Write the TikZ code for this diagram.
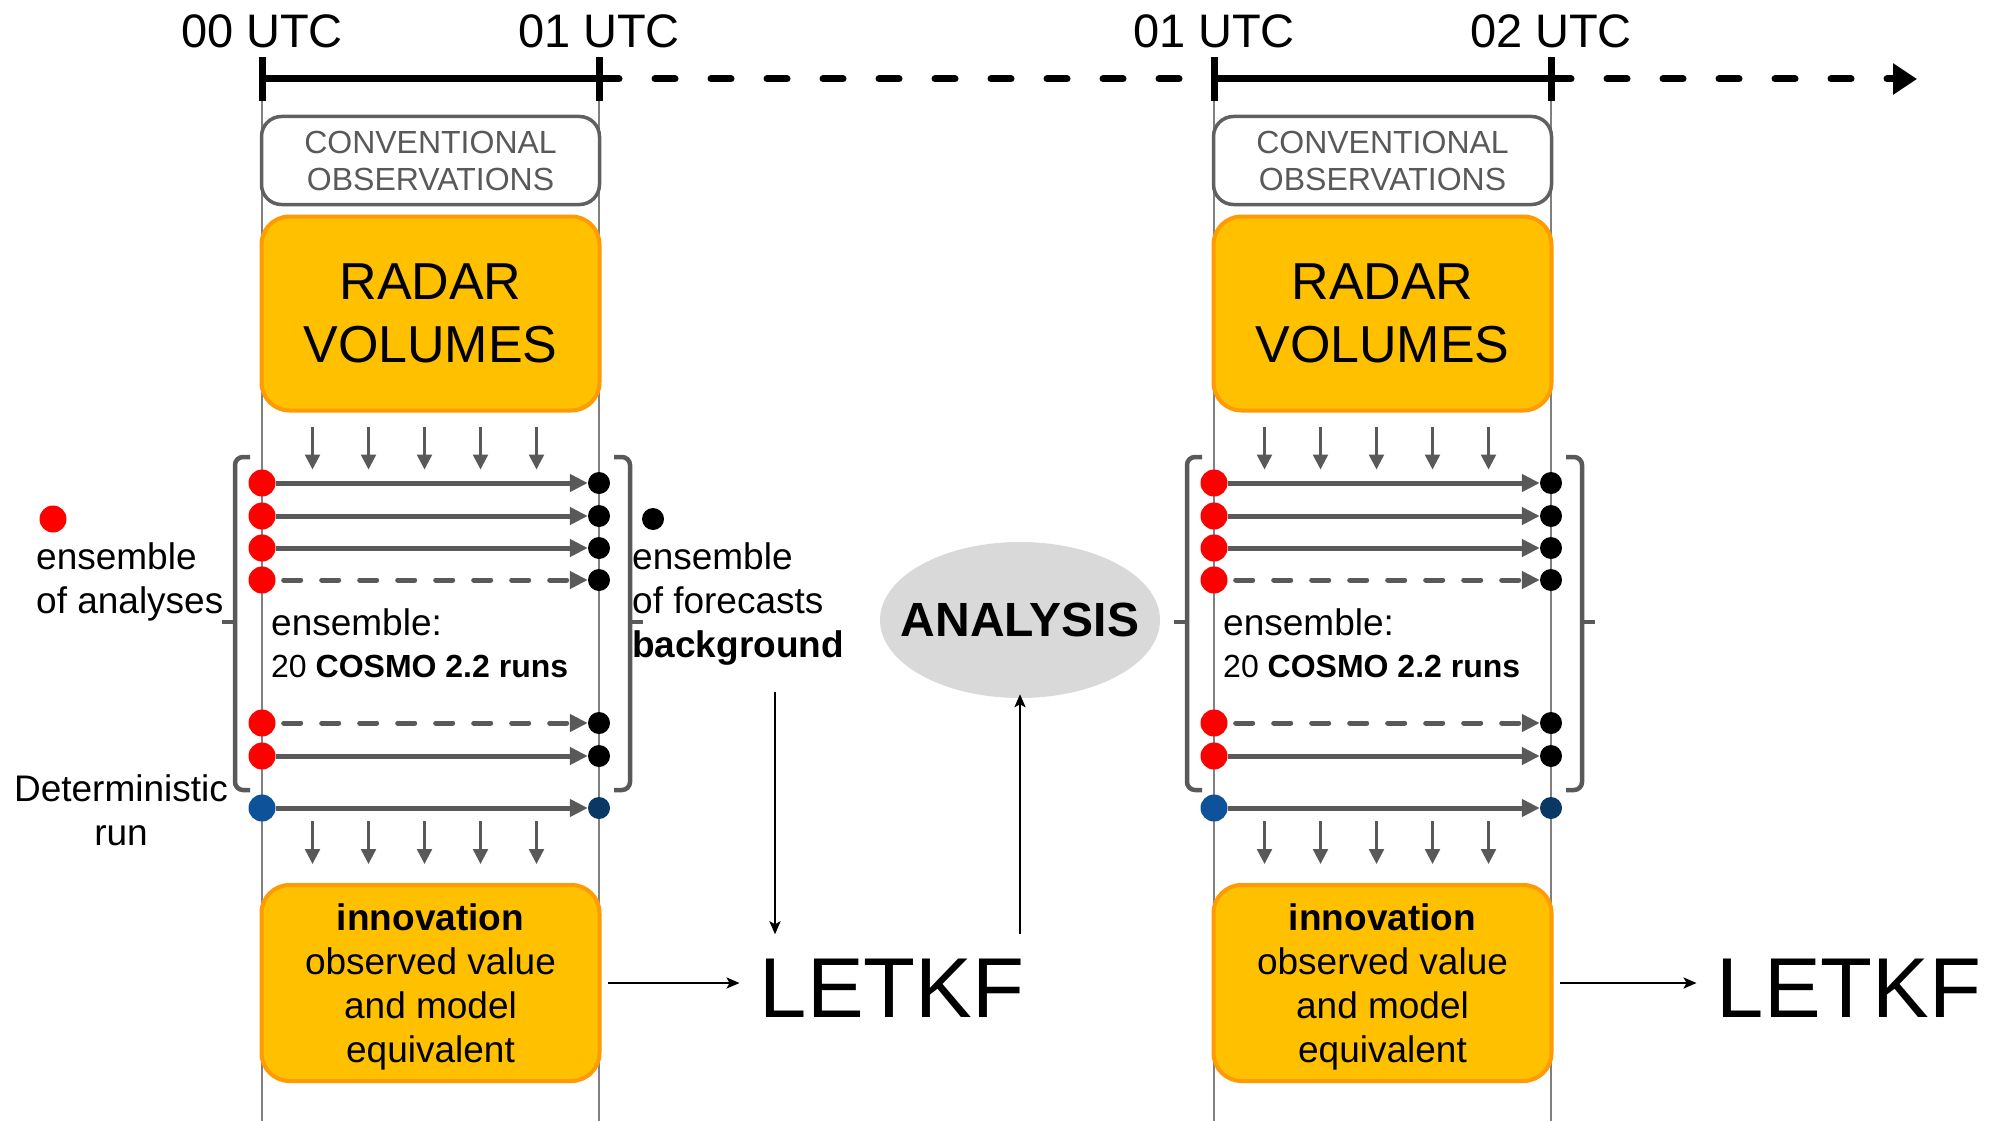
\documentclass[tikz,border=0pt]{standalone}
\usepackage{fontspec}
\setmainfont{Liberation Sans}
\usetikzlibrary{arrows.meta,positioning,shapes.geometric,calc}
\definecolor{Ink}{HTML}{000000}
\definecolor{Ink2}{HTML}{595959}
\definecolor{RuleC}{HTML}{808080}
\definecolor{ConvC}{HTML}{606060}
\definecolor{Amber}{HTML}{FFC000}
\definecolor{AmberLine}{HTML}{FF9A00}
\definecolor{DotRed}{HTML}{FF0000}
\definecolor{DotBlue}{HTML}{0E529A}
\definecolor{DotNavy}{HTML}{0A3864}
\definecolor{AnaGray}{HTML}{D9D9D9}
\newcommand{\fsz}[2]{\fontsize{#1}{#2}\selectfont}

\begin{document}
\begin{tikzpicture}[x=1pt, y=-1pt,
  utc/.style={font=\fsz{47}{56}, inner sep=0pt},
  tline/.style={Ink, line width=7pt},
  tdash/.style={tline, line cap=round, dash pattern=on 20pt off 36pt},
  colline/.style={RuleC, line width=1.5pt},
  conv/.style={draw=ConvC, line width=3.5pt, rounded corners=20pt, fill=white, text=Ink2,
    minimum width=338pt, minimum height=88pt, align=center, inner sep=0pt, font=\fsz{32}{37}},
  radar/.style={draw=AmberLine, line width=4pt, rounded corners=28pt, fill=Amber,
    minimum width=338pt, minimum height=194pt, align=center, inner sep=0pt, font=\fsz{52}{63}},
  innov/.style={radar, minimum height=196pt, font=\fsz{37}{44}},
  tickarr/.style={-{Triangle[length=15pt,width=15pt]}, Ink2, line width=2.5pt},
  run/.style={-{Triangle[length=18pt,width=17pt]}, Ink2, line width=5pt},
  rundash/.style={run, line cap=round, dash pattern=on 17pt off 21pt, dash phase=-8pt},
  rdot/.style={circle, fill=DotRed, minimum size=27pt, inner sep=0pt},
  kdot/.style={circle, fill=black, minimum size=22pt, inner sep=0pt},
  bdot/.style={rdot, fill=DotBlue},
  ndot/.style={kdot, fill=DotNavy},
  brk/.style={Ink2, line width=4.5pt, rounded corners=8pt},
  lbl/.style={font=\fsz{37}{44}, align=left, inner sep=0pt},
  ana/.style={ellipse, fill=AnaGray, minimum width=280pt, minimum height=156pt, inner xsep=-60pt,
    inner ysep=0pt, font=\bfseries\fsz{48}{52}},
  letkf/.style={font=\fsz{85}{90}, inner sep=0pt},
  larr/.style={-{Stealth[length=13pt,width=11pt,inset=3pt]}, Ink, line width=2.5pt}
]
\useasboundingbox (0,0) rectangle (1997,1121);

% time axis
\coordinate (t0) at (262,79);
\coordinate (t1) at (599,79);
\coordinate (t2) at (1214,79);
\coordinate (t3) at (1551,79);
\coordinate (tend) at (1917,79);
\draw[tline] (t0) -- (t1);
\draw[tline] (t2) -- (t3);
\draw[tdash] (t1) -- (t2);
\draw[tdash, -{Triangle[length=24pt,width=30pt]}] (t3) -- (tend);
\foreach \t in {t0,t1,t2,t3}
  \draw[tline] ([yshift=22pt]\t) -- ([yshift=-22pt]\t);
\node[utc, above=31pt of t0] (l00) {00 UTC};
\node[utc, above=31pt of t1] (l01) {01 UTC};
\node[utc, above=31pt of t2] (l01b) {01 UTC};
\node[utc, above=31pt of t3] (l02) {02 UTC};

% one assimilation window per hour
\foreach \c/\L/\lx in {a/262/892, b/1214/1849}{
  \pgfmathsetmacro{\R}{\L+337}
  \draw[colline] (\L,101) -- (\L,1121);
  \draw[colline] (\R,101) -- (\R,1121);
  \node[conv] (conv-\c) at (\L+168.5,160.5) {CONVENTIONAL\\OBSERVATIONS};
  \node[radar] (radar-\c) at (\L+168.5,313.5) {RADAR\\VOLUMES};
  \node[innov] (innov-\c) at (\L+168.5,983) {\rule{0pt}{34pt}\textbf{innovation}\\observed value\\and model\\equivalent};
  \foreach \k in {0,...,4}{
    \draw[tickarr] ($(radar-\c.south west)+(53+56*\k,14)$) -- ++(0,43);
    \draw[tickarr] ($(innov-\c.north west)+(53+56*\k,-62)$) -- ++(0,43);
  }
  \foreach \y/\st [count=\i] in {483/run,516/run,548/run,580/rundash,723/rundash,756/run}{
    \node[rdot] (r\i-\c) at (\L,\y) {};
    \node[kdot] (k\i-\c) at (\R,\y) {};
    \draw[\st] (r\i-\c) -- (k\i-\c);
  }
  \node[bdot] (d1-\c) at (\L,808) {};
  \node[ndot] (d2-\c) at (\R,808) {};
  \draw[run] (d1-\c) -- (d2-\c);
  \draw[brk] (\L-12,457) -- (\L-27,457) -- (\L-27,790) -- (\L-12,790);
  \draw[brk] (\L-27,622) -- (\L-40,622);
  \draw[brk] (\R+15,457) -- (\R+31,457) -- (\R+31,790) -- (\R+15,790);
  \draw[brk] (\R+31,622) -- (\R+44,622);
  \node[lbl, font=\fsz{37}{44}, anchor=base west] (ens-\c) at (\L+9,635) {ensemble:};
  \node[lbl, font=\fsz{32}{40}, anchor=base west] (cosmo-\c) at ([yshift=-42pt]ens-\c.base west) {20 \textbf{COSMO 2.2 runs}};
  \node[letkf, anchor=base] (letkf-\c) at (\lx,1017) {LETKF};
  \draw[larr, shorten <=6pt, shorten >=20pt] (innov-\c.east) -- (innov-\c.east -| letkf-\c.west);
}

% legend of the ensemble members
\node[rdot] (legr) at (53,519) {};
\node[lbl, anchor=base west] (anal) at (36,613) {ensemble\\of analyses};
\node[kdot] (legk) at (653,519) {};
\node[lbl, anchor=base west] (fcst) at (632,657) {ensemble\\of forecasts\\\textbf{background}};
\node[lbl, align=center, anchor=base] (det) at (121,845) {Deterministic\\run};

% analysis step
\node[ana] (ana) at (1020,620) {ANALYSIS};
\coordinate (bgdrop) at (775,692);
\draw[larr, shorten >=24pt] (bgdrop) -- (bgdrop |- letkf-a.north);
\draw[larr, shorten <=24pt, shorten >=-4pt] (ana.south |- letkf-a.north) -- (ana.south);
\end{tikzpicture}
\end{document}
